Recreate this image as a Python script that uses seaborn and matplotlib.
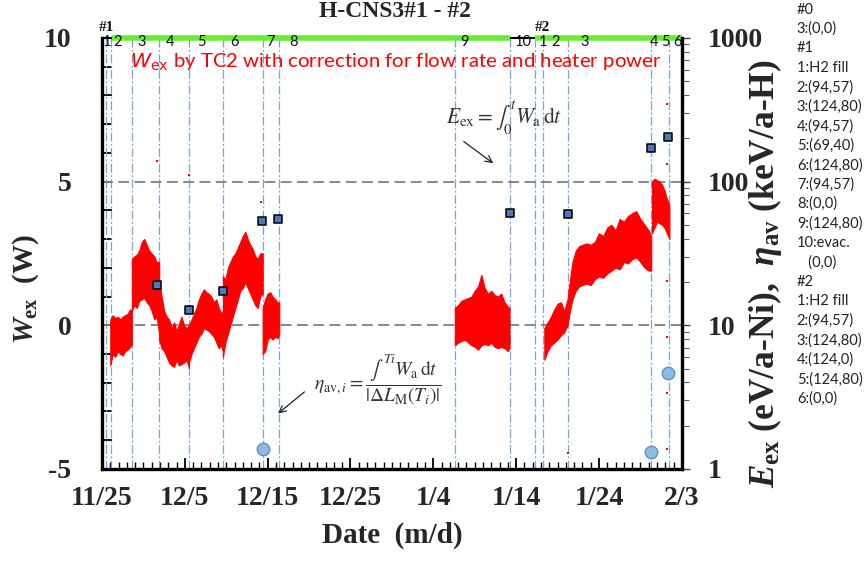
import matplotlib
matplotlib.use("Agg")
import matplotlib.pyplot as plt
from matplotlib.ticker import MultipleLocator, LogLocator, NullFormatter
import pandas as pd
import seaborn as sns

# ---------------- data (time axis: days after 11/25) ----------------
x_tick_days = [0, 10, 20, 30, 40, 50, 60, 70]
x_tick_labels = ["11/25", "12/5", "12/15", "12/25", "1/4", "1/14", "1/24", "2/3"]
y_tick_vals = [-5, 0, 5, 10]
y_tick_labels = ["-5", "0", "5", "10"]
y2_tick_vals = [1, 10, 100, 1000]
y2_tick_labels = ["1", "10", "100", "1000"]

event_days = [0.5, 1.1, 3.6, 6.9, 10.5, 14.6, 19.4, 21.4, 42.6, 49.2, 52.3, 53.2, 56.3, 66.3, 68.5]
period_label_days = [0.6, 1.9, 4.8, 8.2, 12.0, 16.0, 20.4, 23.1, 43.8, 50.8, 53.3, 54.8, 58.3, 66.6, 68.0, 69.5]
period_labels = ["1", "2", "3", "4", "5", "6", "7", "8", "9", "10", "1", "2", "3", "4", "5", "6"]
run_label_days = [0.6, 53.2]
run_labels = ["#1", "#2"]
run_starts = [1.2, 52.3]
run_ends = [49.3, 70.0]

# excess power W_ex (W): upper / lower envelope of the TC2 trace, per period
wex_t_1 = [1.0, 1.3, 1.6, 1.9, 2.2, 2.5, 2.8, 3.1, 3.4, 3.6]
wex_hi_1 = [0.2, 0.35, 0.25, 0.3, 0.2, 0.3, 0.35, 0.4, 0.55, 0.5]
wex_lo_1 = [-1.4, -1.0, -1.1, -0.9, -1.0, -1.05, -0.9, -0.85, -0.75, -0.7]

wex_t_2 = [3.6, 3.9, 4.2, 4.5, 4.8, 5.1, 5.4, 5.7, 6.0, 6.3, 6.6, 6.9]
wex_hi_2 = [2.3, 2.4, 2.45, 2.6, 2.9, 3.0, 2.8, 2.6, 2.5, 2.4, 2.2, 2.2]
wex_lo_2 = [0.5, 0.7, 0.6, 0.85, 0.9, 0.95, 0.8, 0.7, 0.5, 0.2, 0.3, -0.3]

wex_t_3 = [6.9, 7.2, 7.5, 7.8, 8.1, 8.4, 8.7, 9.0, 9.3, 9.6, 9.9, 10.2, 10.5]
wex_hi_3 = [1.6, 1.0, 0.5, 0.3, 0.2, -0.1, 0.1, -0.2, 0.05, 0.3, 0.0, -0.1, 0.0]
wex_lo_3 = [-0.5, -0.8, -0.9, -1.1, -1.3, -1.4, -1.45, -1.2, -1.4, -1.35, -1.3, -1.2, -1.5]

wex_t_4 = [10.5, 10.8, 11.1, 11.4, 11.7, 12.0, 12.3, 12.6, 12.9, 13.2, 13.5, 13.8, 14.1, 14.4, 14.6]
wex_hi_4 = [0.0, 0.2, 0.4, 0.6, 0.9, 1.1, 1.25, 1.15, 1.1, 1.0, 0.8, 0.9, 0.6, 0.4, 0.5]
wex_lo_4 = [-1.3, -1.0, -0.8, -0.6, -0.4, -0.3, -0.1, -0.15, -0.2, -0.3, -0.4, -0.6, -0.8, -0.7, -0.9]

wex_t_5 = [14.6, 14.9, 15.2, 15.5, 15.8, 16.1, 16.4, 16.7, 17.0, 17.3, 17.6, 17.9, 18.2, 18.5, 18.8, 19.1, 19.4]
wex_hi_5 = [1.7, 1.6, 2.0, 2.2, 2.4, 2.5, 2.7, 2.9, 3.1, 3.25, 3.0, 2.8, 2.65, 2.4, 2.3, 2.5, 2.5]
wex_lo_5 = [-1.1, -0.6, -0.3, 0.0, 0.3, 0.6, 0.9, 1.2, 1.3, 1.5, 1.3, 1.1, 0.9, 0.7, 0.6, 1.0, 1.1]

wex_t_6 = [19.4, 19.7, 20.0, 20.3, 20.6, 20.9, 21.2, 21.4]
wex_hi_6 = [0.6, 0.9, 1.1, 1.15, 1.0, 0.9, 0.8, 0.8]
wex_lo_6 = [-1.0, -0.9, -0.5, -0.4, -0.5, -0.4, -0.45, -0.3]

wex_t_7 = [42.6, 43.0, 43.4, 43.8, 44.2, 44.6, 45.0, 45.4, 45.8, 46.2, 46.6, 47.0, 47.4, 47.8, 48.2, 48.6, 49.0, 49.2]
wex_hi_7 = [0.6, 0.7, 0.85, 0.9, 0.95, 1.0, 1.2, 1.35, 1.75, 1.3, 1.1, 1.2, 1.05, 1.0, 1.1, 0.8, 0.65, 0.6]
wex_lo_7 = [-0.7, -0.6, -0.55, -0.5, -0.6, -0.7, -0.75, -0.85, -0.7, -0.65, -0.7, -0.6, -0.75, -0.8, -0.75, -0.8, -0.9, -0.8]

wex_t_8 = [53.4, 53.8, 54.2, 54.6, 55.0, 55.4, 55.8, 56.2, 56.5, 56.8, 57.2, 57.6, 58.0, 58.5, 59.0,
           59.5, 60.0, 60.5, 61.0, 61.5, 62.0, 62.5, 63.0, 63.5, 64.0, 64.5, 65.0, 65.5, 66.0, 66.3]
wex_hi_8 = [-0.1, 0.1, 0.3, 0.55, 0.75, 0.8, 0.5, 0.9, 1.6, 2.2, 2.6, 2.75, 2.8, 2.85, 2.8,
            2.9, 3.2, 3.1, 3.4, 3.5, 3.3, 3.7, 3.6, 3.8, 3.9, 3.97, 3.7, 3.5, 3.3, 3.1]
wex_lo_8 = [-1.2, -0.9, -0.7, -0.6, -0.5, -0.35, -0.25, 0.0, 0.5, 0.9, 1.2, 1.35, 1.4, 1.45, 1.4,
            1.6, 1.7, 1.65, 1.8, 1.9, 2.0, 1.95, 2.2, 2.15, 2.3, 2.37, 2.2, 2.0, 1.9, 1.9]

wex_t_9 = [66.4, 66.7, 67.0, 67.3, 67.6, 67.9, 68.2, 68.5]
wex_hi_9 = [5.0, 5.1, 5.05, 5.0, 4.9, 4.7, 4.4, 4.2]
wex_lo_9 = [3.2, 3.4, 3.6, 3.55, 3.5, 3.4, 3.2, 3.0]

# isolated W_ex readings outside the main trace
spike_days = [6.6, 10.5, 19.2, 68.2, 68.2, 68.2, 68.2, 68.2, 56.2, 68.2]
spike_vals = [5.72, 5.23, 4.29, 5.6, 1.54, -0.4, -2.36, -4.3, -4.45, 7.7]

# integrated excess energy E_ex (eV/a-Ni) and eta_av (keV/a-H), right log axis
e_ex_days = [6.6, 10.5, 14.6, 19.3, 21.3, 49.2, 56.2, 66.3, 68.3]
e_ex_vals = [19.1, 12.8, 17.3, 53.0, 55.0, 60.5, 59.6, 171.0, 205.0]
eta_days = [19.4, 66.3, 68.3]
eta_vals = [1.38, 1.31, 4.66]

ref_levels = [0, 5]

side_notes = ["#0", "3:(0,0)", "#1", "1:H2 fill", "2:(94,57)", "3:(124,80)", "4:(94,57)",
              "5:(69,40)", "6:(124,80)", "7:(94,57)", "8:(0,0)", "9:(124,80)", "10:evac.",
              "   (0,0)", "#2", "1:H2 fill", "2:(94,57)", "3:(124,80)", "4:(124,0)",
              "5:(124,80)", "6:(0,0)"]

segments = [
    (wex_t_1, wex_hi_1, wex_lo_1), (wex_t_2, wex_hi_2, wex_lo_2), (wex_t_3, wex_hi_3, wex_lo_3),
    (wex_t_4, wex_hi_4, wex_lo_4), (wex_t_5, wex_hi_5, wex_lo_5), (wex_t_6, wex_hi_6, wex_lo_6),
    (wex_t_7, wex_hi_7, wex_lo_7), (wex_t_8, wex_hi_8, wex_lo_8), (wex_t_9, wex_hi_9, wex_lo_9),
]

# ---------------- style ----------------
sns.set_theme(style="white")
plt.rcParams["font.family"] = ["Liberation Serif", "DejaVu Serif"]
plt.rcParams["axes.unicode_minus"] = False
plt.rcParams["mathtext.fontset"] = "custom"
plt.rcParams["mathtext.rm"] = "Liberation Serif:bold"
plt.rcParams["mathtext.it"] = "Liberation Serif:italic:bold"
plt.rcParams["mathtext.bf"] = "Liberation Serif:bold"

RED = "#ff0000"
VBLUE = "#7aa5d8"
SQ_FACE = "#4a7ab8"
CIRC_FACE = "#8fbbe0"
CIRC_EDGE = "#5b8fc9"

fig = plt.figure(figsize=(8.68, 5.65), dpi=100)
ax = fig.add_axes([0.1175, 0.170, 0.668, 0.763])
ax.set_xlim(0, 70)
ax.set_ylim(-5, 10)

# event markers
for d in event_days:
    ax.axvline(d, color=VBLUE, lw=0.9, ls=(0, (7, 2, 1.5, 2)), zorder=1)
for lv in ref_levels:
    ax.axhline(lv, color="#7f7f7f", lw=1.3, ls=(0, (6, 3)), zorder=1.5)

# W_ex trace envelopes
for t, hi, lo in segments:
    ax.fill_between(t, lo, hi, color=RED, lw=0.8, edgecolor=RED, zorder=2)
ax.scatter(spike_days, spike_vals, s=3, marker="s", color=RED, lw=0, zorder=2)

# run-active bars along the top
for s0, s1 in zip(run_starts, run_ends):
    ax.plot([s0, s1], [10, 10], color="#66ee33", lw=4, solid_capstyle="butt",
            clip_on=False, zorder=6)

# axes cosmetics
for side in ["left", "bottom"]:
    ax.spines[side].set_linewidth(2.4)
    ax.spines[side].set_color("black")
ax.spines["top"].set_linewidth(1.5)
ax.spines["top"].set_color("black")
ax.spines["right"].set_visible(False)

ax.set_xticks(x_tick_days, x_tick_labels, fontsize=20, fontweight="bold")
ax.set_yticks(y_tick_vals, y_tick_labels, fontsize=20, fontweight="bold")
ax.xaxis.set_minor_locator(MultipleLocator(1))
ax.yaxis.set_minor_locator(MultipleLocator(1))
ax.tick_params(axis="x", which="major", direction="in", length=8, width=1.3, pad=12,
               bottom=True, color="black")
ax.tick_params(axis="x", which="minor", direction="in", length=5, width=1.0, bottom=True, color="black")
ax.tick_params(axis="y", which="both", direction="in", length=7, width=1.3, pad=22,
               left=True, color="black")
ax.set_xlabel("Date  (m/d)", fontsize=21, fontweight="bold", labelpad=8)

# right log axis
ax2 = ax.twinx()
ax2.set_yscale("log")
ax2.set_ylim(1, 1000)
for side in ["left", "bottom", "top"]:
    ax2.spines[side].set_visible(False)
ax2.spines["right"].set_linewidth(2.4)
ax2.spines["right"].set_color("black")
ax2.set_yticks(y2_tick_vals, y2_tick_labels, fontsize=20, fontweight="bold")
ax2.yaxis.set_minor_locator(LogLocator(base=10, subs=[2, 3, 4, 5, 6, 7, 8, 9]))
ax2.yaxis.set_minor_formatter(NullFormatter())
ax2.tick_params(axis="y", which="major", direction="out", length=6, width=1.0, pad=13,
                right=True, color="#404040")
ax2.tick_params(axis="y", which="minor", direction="out", length=5, width=0.8, right=True, color="#606060")

sq = pd.DataFrame({"day": e_ex_days, "val": e_ex_vals})
sns.scatterplot(data=sq, x="day", y="val", ax=ax2, marker="s", s=38, color=SQ_FACE,
                edgecolor="black", linewidth=1.1, zorder=5)
ci = pd.DataFrame({"day": eta_days, "val": eta_vals})
sns.scatterplot(data=ci, x="day", y="val", ax=ax2, marker="o", s=80, color=CIRC_FACE,
                edgecolor=CIRC_EDGE, linewidth=1.0, zorder=5)
ax2.set_xlim(0, 70)
ax2.set_xlabel("")
ax2.set_ylabel("")

# axis titles
fig.text(26 / 868, 1 - 289 / 565, r"$W_{\mathbf{ex}}$  (W)", rotation=90, ha="center", va="center",
         fontsize=21, fontweight="bold")
fig.text(765 / 868, 1 - 274 / 565, r"$E_{\mathbf{ex}}$ (eV/a-Ni),  $\eta_{\mathbf{av}}$ (keV/a-H)",
         rotation=90, ha="center", va="center", fontsize=25.5, fontweight="bold")

# period and run labels along the top
for d, lab in zip(period_label_days, period_labels):
    ax.text(d, 9.85, lab, ha="center", va="center", fontsize=10.5, family="Lato",
            color="#111111", zorder=7, clip_on=False)
for d, lab in zip(run_label_days, run_labels):
    ax.text(d, 10.35, lab, ha="center", va="center", fontsize=11, fontweight="bold",
            color="#111111", zorder=7, clip_on=False)

# annotation: red caption
ax.text(3.37, 9.16, r"$W_{\mathrm{ex}}$ by TC2 with correction for flow rate and heater power",
        ha="left", va="center", fontsize=14.7, family="Lato",
        color=RED, math_fontfamily="dejavusans", zorder=7)

# annotation: energy integral
ax.text(41.5, 7.22, r"$E_{\mathrm{ex}}=\int_0^t W_{\mathrm{a}}\,\mathrm{d}t$", ha="left", va="center",
        fontsize=15.5, color="#333333", math_fontfamily="stix", zorder=7)
ax.annotate("", xy=(47.5, 5.58), xytext=(43.4, 6.45),
            arrowprops=dict(arrowstyle="->", color="#222222", lw=0.9))

# annotation: eta definition
ax.text(25.6, -1.9, r"$\eta_{\mathrm{av},i}=\dfrac{\int^{Ti} W_{\mathrm{a}}\,\mathrm{d}t}{|\Delta L_{\mathrm{M}}(T_i)|}$",
        ha="left", va="center", fontsize=14, color="#333333",
        math_fontfamily="stix", zorder=7)
ax.annotate("", xy=(21.0, -3.13), xytext=(24.7, -2.26),
            arrowprops=dict(arrowstyle="->", color="#222222", lw=0.9))

# title
fig.text(0.455, 0.979, "H-CNS3#1 - #2", ha="center", va="center", fontsize=17, fontweight="bold")

# condition notes at the right edge
y0 = 1 - 9.5 / 565
dy = 19.45 / 565
for i, note in enumerate(side_notes):
    fig.text(0.918, y0 - i * dy, note, ha="left", va="center", fontsize=10.5,
             family="Lato", color="#222222")

fig.savefig("out.png", dpi=100)
